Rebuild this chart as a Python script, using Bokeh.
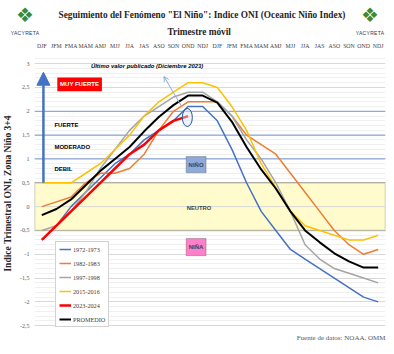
from bokeh.plotting import figure
from bokeh.models import (Range1d, FixedTicker, Title, Label, BoxAnnotation, Span,
                          Arrow, NormalHead, OpenHead, Legend, LegendItem, Div)
from bokeh.embed import file_html
from bokeh.resources import INLINE

seasons = ["DJF", "JFM", "FMA", "MAM", "AMJ", "MJJ", "JJA", "JAS", "ASO", "SON", "OND", "NDJ"] * 2
x_idx = list(range(len(seasons)))

oni_1972_1973 = [-0.7, -0.4, 0.0, 0.3, 0.6, 0.9, 1.1, 1.4, 1.6, 1.8, 2.1, 2.1,
                 1.8, 1.2, 0.5, -0.1, -0.5, -0.9, -1.1, -1.3, -1.5, -1.7, -1.9, -2.0]
oni_1982_1983 = [0.0, 0.1, 0.2, 0.5, 0.7, 0.7, 0.8, 1.1, 1.6, 2.0, 2.2, 2.2,
                 2.2, 1.9, 1.5, 1.3, 1.1, 0.7, 0.3, -0.1, -0.5, -0.8, -1.0, -0.9]
oni_1997_1998 = [-0.5, -0.4, -0.1, 0.3, 0.8, 1.2, 1.6, 1.9, 2.1, 2.3, 2.4, 2.4,
                 2.2, 1.9, 1.4, 1.0, 0.5, -0.1, -0.8, -1.1, -1.3, -1.4, -1.5, -1.6]
oni_2015_2016 = [0.5, 0.5, 0.5, 0.7, 0.9, 1.2, 1.5, 1.9, 2.2, 2.4, 2.6, 2.6,
                 2.5, 2.1, 1.6, 0.9, 0.4, -0.1, -0.4, -0.5, -0.6, -0.7, -0.7, -0.6]
oni_2023_2024 = [-0.7, -0.4, -0.1, 0.2, 0.5, 0.8, 1.1, 1.3, 1.6, 1.8, 1.9]
oni_promedio = [-0.18, -0.05, 0.15, 0.45, 0.75, 1.0, 1.25, 1.58, 1.88, 2.13, 2.33, 2.33,
                2.18, 1.78, 1.25, 0.78, 0.38, -0.1, -0.5, -0.75, -0.98, -1.15, -1.28, -1.28]

series_names = ["1972-1973", "1982-1983", "1997-1998", "2015-2016", "2023-2024", "PROMEDIO"]
y_ticks = [-2.5, -2, -1.5, -1, -0.5, 0, 0.5, 1, 1.5, 2, 2.5, 3]
y_tick_labels = ["-2,5", "-2", "-1,5", "-1", "-0,5", "0", "0,5", "1", "1,5", "2", "2,5", "3"]
intensity_labels = ["FUERTE", "MODERADO", "DEBIL"]
intensity_levels = [1.72, 1.25, 0.78]

SERIF = "Liberation Serif"
SANS = "Liberation Sans"

p = figure(width=394, height=354, output_backend="svg", toolbar_location=None,
           x_range=Range1d(-0.5, 23.5), y_range=Range1d(-2.6, 3.15),
           x_axis_location="above", min_border_left=0, min_border_right=9,
           min_border_top=56, min_border_bottom=24)
p.outline_line_color = None
p.background_fill_color = "white"

# axes
xa = p.xaxis[0]
xa.ticker = FixedTicker(ticks=x_idx)
xa.major_label_overrides = {i: s for i, s in zip(x_idx, seasons)}
xa.major_label_text_font = SERIF
xa.major_label_text_font_size = "5.8px"
xa.major_label_text_color = "#404040"
xa.axis_line_color = None
xa.major_tick_line_color = None
xa.minor_tick_line_color = None
xa.major_tick_out = 0
xa.major_tick_in = 0
xa.major_label_standoff = 8

ya = p.yaxis[0]
ya.ticker = FixedTicker(ticks=y_ticks)
ya.major_label_overrides = {t: l for t, l in zip(y_ticks, y_tick_labels)}
ya.major_label_text_font = SERIF
ya.major_label_text_font_size = "6px"
ya.major_label_text_color = "#595959"
ya.axis_line_color = None
ya.major_tick_line_color = None
ya.minor_tick_line_color = None
ya.major_tick_out = 0
ya.major_tick_in = 0
ya.major_label_standoff = 5
ya.axis_label = "Indice Trimestral ONI, Zona Niño 3+4"
ya.axis_label_text_font = SERIF
ya.axis_label_text_font_style = "bold"
ya.axis_label_text_font_size = "9.5px"
ya.axis_label_text_color = "#262626"
ya.axis_label_standoff = 4

p.xgrid.visible = False
minor = [round(-2.6 + 0.1 * k, 2) for k in range(58)]
p.ygrid.ticker = FixedTicker(ticks=y_ticks, minor_ticks=minor)
p.ygrid.grid_line_color = "#d9d9d9"
p.ygrid.minor_grid_line_color = "#f0f0f0"

# neutral band
p.add_layout(BoxAnnotation(bottom=-0.5, top=0.5, fill_color="#fffbcc", fill_alpha=1,
                           line_color="#3f3f3f", line_width=1.5, level="underlay"))
p.add_layout(Span(location=0, dimension="width", line_color="#d9d9d9", line_width=1, level="underlay"))
for lv in [1, 1.5, 2]:
    p.add_layout(Span(location=lv, dimension="width", line_color="#8faadc", line_width=1.2,
                      level="underlay"))

# lines
colors = ["#4472c4", "#ed7d31", "#a5a5a5", "#ffc000", "#ff0000", "#000000"]
widths = [1.5, 1.5, 1.5, 1.5, 2.5, 2]
data = [oni_1972_1973, oni_1982_1983, oni_1997_1998, oni_2015_2016, oni_2023_2024, oni_promedio]
renderers = {}
for k in [0, 1, 2, 3, 5, 4]:
    ys = data[k]
    renderers[k] = p.line(x_idx[:len(ys)], ys, line_color=colors[k], line_width=widths[k])

# highlight of last value
p.ellipse(x=[len(oni_2023_2024) - 1 - 0.05], y=[oni_2023_2024[-1] - 0.03], width=10, height=18,
          width_units="screen", height_units="screen", fill_color="#dae3f3", fill_alpha=0.45,
          line_color="#2f5597", line_width=1)
p.add_layout(Arrow(x_start=9.6, y_start=2.08, x_end=8.35, y_end=2.73, line_color="#8faadc",
                   line_width=1, end=OpenHead(size=5, line_color="#8faadc", line_width=1)))
p.add_layout(Label(x=3.36, y=2.96, text="Último valor publicado  (Diciembre 2023)",
                   text_font=SANS, text_font_style="bold italic", text_font_size="5.9px",
                   text_baseline="middle", text_color="#000000"))

# intensity arrow and labels
p.add_layout(Arrow(x_start=0.11, y_start=0.5, x_end=0.11, y_end=2.82, line_color="#4472c4",
                   line_width=2.5, end=NormalHead(size=13, fill_color="#4472c4", line_color="#4472c4")))
p.add_layout(BoxAnnotation(left=1.06, right=4.11, bottom=2.42, top=2.71, fill_color="#ff0000",
                           fill_alpha=1, line_color=None))
p.add_layout(Label(x=2.58, y=2.565, text="MUY FUERTE", text_font=SANS, text_font_style="bold",
                   text_font_size="6px", text_color="white", text_align="center", text_baseline="middle"))
for t, lv in zip(intensity_labels, intensity_levels):
    p.add_layout(Label(x=0.86, y=lv, text=t, text_font=SANS, text_font_style="bold",
                       text_font_size="6px", text_color="#000000", text_baseline="middle"))

# phase boxes
p.add_layout(BoxAnnotation(left=9.87, right=11.23, bottom=0.71, top=1.05, fill_color="#8eaadb",
                           fill_alpha=1, line_color="#404040", line_width=1))
p.add_layout(Label(x=10.55, y=0.88, text="NIÑO", text_font=SANS, text_font_style="bold",
                   text_font_size="6px", text_align="center", text_baseline="middle"))
p.add_layout(Label(x=10.75, y=-0.02, text="NEUTRO", text_font=SANS, text_font_style="bold",
                   text_font_size="5.8px", text_align="center", text_baseline="middle"))
p.add_layout(BoxAnnotation(left=9.87, right=11.23, bottom=-1.03, top=-0.67, fill_color="#ff7fc8",
                           fill_alpha=1, line_color="#404040", line_width=1))
p.add_layout(Label(x=10.55, y=-0.85, text="NIÑA", text_font=SANS, text_font_style="bold",
                   text_font_size="6px", text_align="center", text_baseline="middle"))

# legend
items = [LegendItem(label=series_names[k], renderers=[renderers[k]]) for k in range(6)]
leg = Legend(items=items, location=(21, 3), label_text_font=SERIF, label_text_font_size="6.2px",
             label_text_color="#404040", glyph_width=12, glyph_height=6, label_height=8,
             label_standoff=2, spacing=6, padding=3, margin=0, border_line_color="#a6a6a6",
             border_line_width=1, background_fill_color="white", background_fill_alpha=1)
p.add_layout(leg)

# titles and footer
p.add_layout(Title(text="Trimestre móvil", align="left", offset=133, text_font=SERIF,
                   text_font_size="9.3px", text_font_style="bold", text_color="#262626",
                   standoff=6), "above")
p.add_layout(Title(text='Seguimiento del Fenómeno "El Niño": Indice ONI (Oceanic Niño Index)',
                   align="left", offset=24, text_font=SERIF, text_font_size="9.3px",
                   text_font_style="bold", text_color="#262626", standoff=3), "above")
p.add_layout(Title(text="Fuente de datos: NOAA, OMM", align="right", text_font=SERIF,
                   text_font_size="7px", text_font_style="normal", text_color="#595959",
                   standoff=2), "below")

# logos as floating HTML elements
logo_html = ('<div style="width:32px;text-align:center;line-height:1;">'
             '<div style="font-family:\'DejaVu Sans\';font-size:20px;color:#3a8a3a;">❖</div>'
             '<div style="font-family:\'Liberation Sans\';font-size:5px;color:#1f3864;'
             'margin-top:6px;letter-spacing:0.3px;">YACYRETA</div></div>')
logos = []
for left in ["9px", "354px"]:
    logos.append(Div(text=logo_html, width=32, height=36,
                     styles={"position": "absolute", "left": left, "top": "5px",
                             "width": "32px", "z-index": "10"}))
p.elements = logos

open("out.html", "w").write(file_html(p, INLINE))
